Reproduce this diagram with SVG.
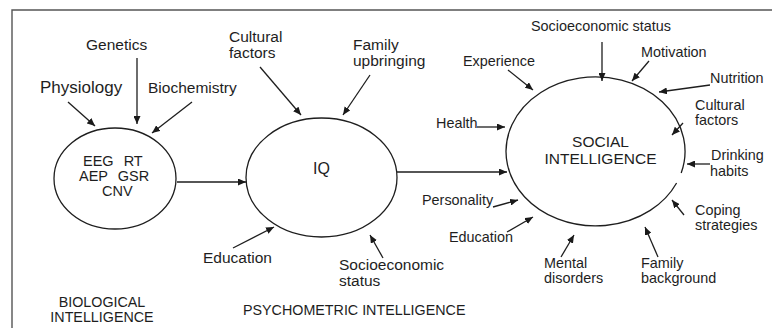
<svg xmlns="http://www.w3.org/2000/svg" width="772" height="328" viewBox="0 0 772 328">
<defs>
<marker id="ah" markerUnits="userSpaceOnUse" markerWidth="9" markerHeight="7" refX="8" refY="3.5" orient="auto">
<path d="M0,0 L8,3.5 L0,7 z" fill="#1a1a1a"/>
</marker>
<style>
text{font-family:"Liberation Sans",Arial,sans-serif;fill:#1e1e1e;}
.n{fill:none;stroke:#1e1e1e;stroke-width:1.3;}
.c line,.c path{stroke:#1e1e1e;stroke-width:1.3;fill:none;marker-end:url(#ah);}
.frame{stroke:#555;stroke-width:1.4;fill:none;}
.b{font-size:15.5px;}
.q{font-size:15.5px;}
.s{font-size:14.4px;}
.cap{font-size:14.3px;}
</style>
</defs>
<rect width="772" height="328" fill="#fff"/>
<path class="frame" d="M12,328 L12,10 L772,10"/>

<g id="bio">
<ellipse class="n" cx="115" cy="178.5" rx="61" ry="50.5"/>
<text x="83" y="166" font-size="14.5" word-spacing="6">EEG RT</text>
<text x="79" y="181" font-size="14.5" word-spacing="6">AEP GSR</text>
<text x="102" y="196" font-size="14.5">CNV</text>
</g>
<g id="iq">
<ellipse class="n" cx="321.5" cy="177.5" rx="75.5" ry="59.5"/>
<text x="313" y="174" font-size="16">IQ</text>
</g>
<g id="social">
<path class="n" d="M681.2,173 A89.5,74.5 0 1 0 676.6,183"/>
<text x="600.5" y="147" font-size="15.5" text-anchor="middle">SOCIAL</text>
<text x="600.5" y="164" font-size="15.5" text-anchor="middle">INTELLIGENCE</text>
</g>

<g id="lbl-physiology"><text x="40" y="93" font-size="17">Physiology</text></g>
<g id="lbl-genetics"><text class="b" x="86" y="50">Genetics</text></g>
<g id="lbl-biochemistry"><text class="b" x="148" y="93">Biochemistry</text></g>
<g id="lbl-cultural-iq"><text class="q" x="229" y="42">Cultural</text><text class="q" x="229" y="58">factors</text></g>
<g id="lbl-family-iq"><text class="q" x="353" y="50">Family</text><text class="q" x="353" y="66">upbringing</text></g>
<g id="lbl-education-iq"><text class="q" x="203" y="263">Education</text></g>
<g id="lbl-ses-iq"><text class="q" x="339" y="270">Socioeconomic</text><text class="q" x="339" y="286">status</text></g>

<g id="lbl-ses-s"><text class="s" x="531" y="31">Socioeconomic status</text></g>
<g id="lbl-motivation"><text class="s" x="641" y="57">Motivation</text></g>
<g id="lbl-nutrition"><text class="s" x="710" y="83">Nutrition</text></g>
<g id="lbl-cultural-s"><text class="s" x="695" y="110">Cultural</text><text class="s" x="695" y="125">factors</text></g>
<g id="lbl-experience"><text class="s" x="463" y="66">Experience</text></g>
<g id="lbl-health"><text class="s" x="436" y="128">Health</text></g>
<g id="lbl-drinking"><text class="s" x="711" y="160">Drinking</text><text class="s" x="710" y="176">habits</text></g>
<g id="lbl-personality"><text class="s" x="422" y="205">Personality</text></g>
<g id="lbl-education-s"><text class="s" x="449" y="242">Education</text></g>
<g id="lbl-mental"><text class="s" x="544" y="268">Mental</text><text class="s" x="544" y="283">disorders</text></g>
<g id="lbl-family-s"><text class="s" x="641" y="268">Family</text><text class="s" x="641" y="283">background</text></g>
<g id="lbl-coping"><text class="s" x="695" y="215">Coping</text><text class="s" x="695" y="230">strategies</text></g>

<g id="captions">
<text class="cap" x="102" y="307" text-anchor="middle">BIOLOGICAL</text>
<text class="cap" x="102" y="322" text-anchor="middle">INTELLIGENCE</text>
<text class="cap" x="243" y="315">PSYCHOMETRIC INTELLIGENCE</text>
</g>

<g id="connectors" class="c">
<line x1="68" y1="102" x2="95" y2="126"/>
<line x1="137" y1="58" x2="137" y2="124"/>
<line x1="192" y1="102" x2="152" y2="133"/>
<line x1="177" y1="182" x2="246" y2="182"/>
<line x1="260" y1="67" x2="301" y2="115"/>
<line x1="370" y1="75" x2="343" y2="115"/>
<line x1="233" y1="248" x2="274" y2="227"/>
<line x1="383" y1="258" x2="370" y2="235"/>
<line x1="397" y1="172" x2="507" y2="172"/>
<line x1="602" y1="42" x2="602" y2="81"/>
<line x1="649" y1="61" x2="632" y2="81"/>
<line x1="710" y1="85" x2="659" y2="92"/>
<line x1="683" y1="123" x2="672" y2="135"/>
<line x1="508" y1="70" x2="533" y2="90"/>
<line x1="477" y1="127" x2="505" y2="127"/>
<line x1="710" y1="164" x2="687" y2="164"/>
<line x1="493" y1="207" x2="518" y2="200"/>
<line x1="507" y1="232" x2="533" y2="217"/>
<line x1="561" y1="257" x2="574" y2="235"/>
<line x1="658" y1="257" x2="645" y2="227"/>
<line x1="684" y1="215" x2="672" y2="200"/>
</g>
</svg>
